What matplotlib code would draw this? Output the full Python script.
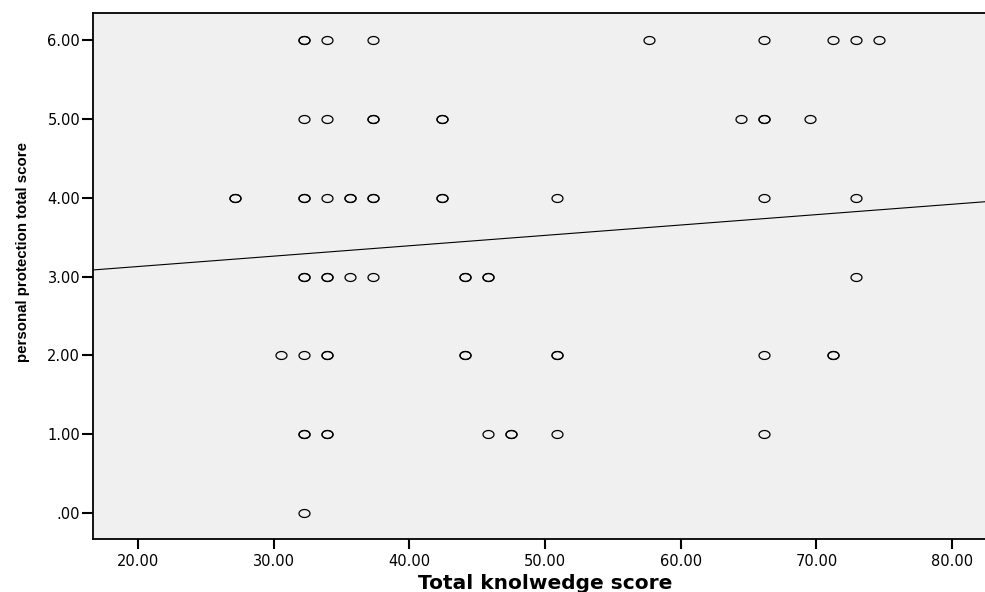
import numpy as np
import matplotlib.pyplot as plt

# knowledge scores for each level of the protection score (repeats = overlapping circles)
kn_6 = [32.20, 32.20, 33.90, 37.29, 57.63, 66.10, 71.19, 72.88, 74.58]
kn_5 = [32.20, 33.90, 37.29, 37.29, 42.37, 42.37, 64.41, 66.10, 66.10, 69.49]
kn_4 = [27.12, 27.12, 32.20, 32.20, 33.90, 35.59, 35.59, 37.29, 37.29, 42.37, 42.37,
        50.85, 66.10, 72.88]
kn_3 = [32.20, 32.20, 33.90, 33.90, 35.59, 37.29, 44.07, 44.07, 45.76, 45.76, 72.88]
kn_2 = [30.51, 32.20, 33.90, 33.90, 44.07, 44.07, 50.85, 50.85, 66.10, 71.19, 71.19]
kn_1 = [32.20, 32.20, 33.90, 33.90, 45.76, 47.46, 47.46, 50.85, 66.10]
kn_0 = [32.20]

levels = [6, 5, 4, 3, 2, 1, 0]
groups = [kn_6, kn_5, kn_4, kn_3, kn_2, kn_1, kn_0]

# fit line
fit_intercept = 2.864
fit_slope = 0.01317

xticks = [20, 30, 40, 50, 60, 70, 80]
yticks = [0, 1, 2, 3, 4, 5, 6]

x = np.concatenate([np.array(g) for g in groups])
y = np.concatenate([np.full(len(g), lv, dtype=float) for g, lv in zip(groups, levels)])

fig = plt.figure(figsize=(9.85, 5.92), dpi=100)
ax = fig.add_axes([0.0941, 0.0895, 0.9059, 0.888])
ax.set_facecolor('#f0f0f0')

# wide ellipse marker like the SPSS output
t = np.linspace(0, 2 * np.pi, 60)
ell = np.column_stack([1.38 * np.cos(t), np.sin(t)])
ax.plot(x, y, linestyle='none', marker=ell, markersize=7.9,
        markerfacecolor='none', markeredgecolor='black', markeredgewidth=0.9)

xlim = (16.66, 82.42)
ax.set_xlim(xlim)
ax.set_ylim(-0.33, 6.34)
xl = np.array(xlim)
ax.plot(xl, fit_intercept + fit_slope * xl, color='black', lw=0.8)

ax.set_xticks(xticks)
ax.set_xticklabels(['%.2f' % v for v in xticks])
ax.set_yticks(yticks)
ax.set_yticklabels(['.00' if v == 0 else '%.2f' % v for v in yticks])
ax.tick_params(axis='both', direction='out', width=1.5, color='black',
               labelsize=10.5, labelcolor='black')
ax.tick_params(axis='y', length=8, pad=1)
ax.tick_params(axis='x', length=7, pad=4)

for s in ['left', 'bottom', 'top']:
    ax.spines[s].set_linewidth(1.3)
ax.spines['right'].set_visible(False)

ax.set_xlabel('Total knolwedge score', fontsize=14.5, fontweight='bold',
              va='top')
ax.xaxis.set_label_coords(0.5075, -0.0666)
ax.set_ylabel('personal protection total score', fontsize=10.8, fontweight='bold',
              family='Liberation Sans', va='center')
ax.yaxis.set_label_coords(-0.078, 0.546)

fig.savefig('out.png', dpi=100)
